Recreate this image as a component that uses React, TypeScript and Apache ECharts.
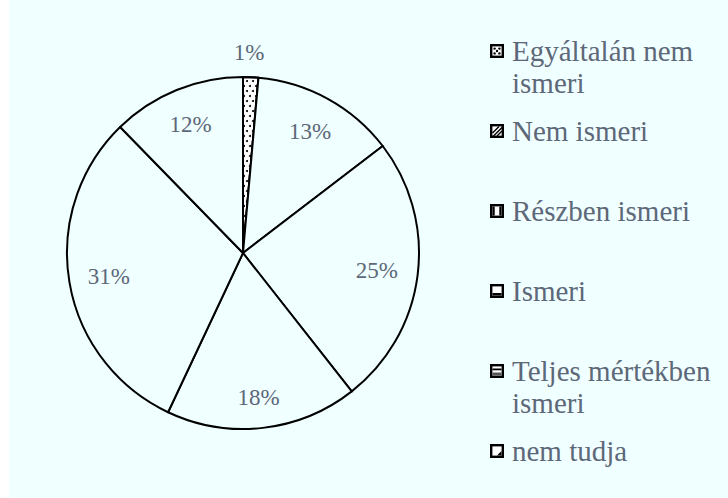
import React, { useEffect, useRef } from "react";
import * as echarts from "echarts";

const categories = [
  "Egyáltalán nem ismeri",
  "Nem ismeri",
  "Részben ismeri",
  "Ismeri",
  "Teljes mértékben ismeri",
  "nem tudja",
];
const values = [1.4, 13.2, 24.8, 17.6, 30.7, 12.3];
const percentLabels = ["1%", "13%", "25%", "18%", "31%", "12%"];
const legendLines = [
  ["Egyáltalán nem", "ismeri"],
  ["Nem ismeri"],
  ["Részben ismeri"],
  ["Ismeri"],
  ["Teljes mértékben", "ismeri"],
  ["nem tudja"],
];

const BG = "#F0FFFF";
const TEXT = "#5d6879";
const FONT = "Liberation Serif, Times New Roman, serif";

const iconInner = [
  '<circle cx="4.6" cy="4.6" r="1.2" fill="#000"/><circle cx="9.4" cy="4.6" r="1.2" fill="#000"/><circle cx="7" cy="7" r="1.2" fill="#000"/><circle cx="4.6" cy="9.4" r="1.2" fill="#000"/><circle cx="9.4" cy="9.4" r="1.2" fill="#000"/>',
  '<path d="M2.5 9 L9 2.5 M3.5 12 L12 3.5 M7 12 L12 7" stroke="#000" stroke-width="1.4"/>',
  '<rect x="2.5" y="2.5" width="2.2" height="9" fill="#000"/><rect x="9.3" y="2.5" width="2.2" height="9" fill="#000"/>',
  '<rect x="2.5" y="9" width="9" height="2.5" fill="#000"/>',
  '<rect x="2.5" y="4.5" width="9" height="1.8" fill="#000"/><rect x="2.5" y="8.5" width="9" height="3" fill="#555"/>',
  '<path d="M11.5 7 L11.5 11.5 L7 11.5 Z" fill="#000"/>',
];

function makeIcon(i: number, h: number) {
  const svg =
    `<svg xmlns="http://www.w3.org/2000/svg" width="17" height="${h}" viewBox="0 0 17 ${h}">` +
    `<rect x="1.2" y="1.2" width="11.6" height="11.6" fill="#fff" stroke="#000" stroke-width="2.4"/>` +
    iconInner[i] +
    `</svg>`;
  return "image://data:image/svg+xml;utf8," + encodeURIComponent(svg);
}

export default function App() {
  const ref = useRef<HTMLDivElement>(null);

  useEffect(() => {
    if (!ref.current) return;
    const chart = echarts.init(ref.current, null, { renderer: "svg" });

    const legends = categories.map((name, i) => {
      const two = legendLines[i].length > 1;
      const h = two ? 46 : 14;
      return {
        orient: "vertical",
        left: 481,
        top: 35 + 80 * i,
        padding: 0,
        itemGap: 0,
        itemWidth: 17,
        itemHeight: h,
        symbolKeepAspect: false,
        selectedMode: false,
        data: [{ name, icon: makeIcon(i, h) }],
        formatter: () => legendLines[i].join("\n"),
        textStyle: {
          fontFamily: FONT,
          fontSize: 29,
          color: TEXT,
          lineHeight: 32,
        },
      };
    });

    chart.setOption({
      animation: false,
      backgroundColor: BG,
      textStyle: { fontFamily: FONT },
      legend: legends,
      series: [
        {
          type: "pie",
          center: [234, 253],
          radius: [0, 176],
          startAngle: 90,
          clockwise: true,
          silent: true,
          emphasis: { disabled: true },
          label: { show: false },
          labelLine: { show: false },
          itemStyle: { color: BG, borderColor: "#000", borderWidth: 2 },
          data: categories.map((name, i) => ({
            name,
            value: values[i],
            itemStyle:
              i === 0
                ? {
                    color: "#ffffff",
                    borderColor: "#000",
                    borderWidth: 2,
                    decal: {
                      symbol: "circle",
                      symbolSize: 1,
                      color: "#000",
                      backgroundColor: "#ffffff",
                      dashArrayX: [
                        [1.6, 3.4],
                        [0, 2.5, 1.6, 0.9],
                      ],
                      dashArrayY: [1.6, 2.4],
                      rotation: 0,
                    },
                  }
                : { color: BG, borderColor: "#000", borderWidth: 2 },
          })),
        },
        {
          type: "pie",
          center: [234, 253],
          radius: [0, 272],
          startAngle: 90,
          clockwise: true,
          silent: true,
          emphasis: { disabled: true },
          itemStyle: { color: "rgba(0,0,0,0)", borderWidth: 0 },
          labelLine: { show: false },
          label: {
            show: true,
            position: "inside",
            fontFamily: FONT,
            fontSize: 23,
            color: TEXT,
            formatter: (p: any) => percentLabels[p.dataIndex],
          },
          data: categories.map((name, i) => ({
            name,
            value: values[i],
            label:
              i === 0
                ? { offset: [0, -62] }
                : i === 2
                ? { offset: [-4, 0] }
                : i === 3
                ? { offset: [0, 6] }
                : i === 4
                ? { offset: [3, 0] }
                : {},
          })),
        },
      ],
    });

    return () => chart.dispose();
  }, []);

  return (
    <div
      ref={ref}
      style={{
        position: "absolute",
        left: 9,
        top: 0,
        width: 719,
        height: 498,
        background: BG,
      }}
    />
  );
}
